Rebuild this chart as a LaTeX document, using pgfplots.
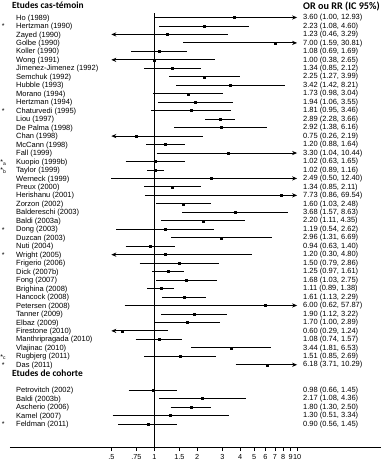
\documentclass[border=0pt]{standalone}
\usepackage{fontspec}
\setmainfont{Liberation Sans}
\newfontfamily\hdr{Carlito}
\usepackage{pgfplots}
\pgfplotsset{compat=1.18}
\usetikzlibrary{arrows.meta}

\tikzset{
  ci/.style={black, line width=0.85pt, mark=none, >={Stealth[length=5pt,width=4.2pt]}},
  est/.style={black, only marks, mark=square*, mark size=1.0pt},
  nm/.style={anchor=base west, inner sep=0pt, font=\fontsize{7.5}{9}\selectfont, xshift=-138.3pt, yshift=-2.6pt},
  vl/.style={anchor=base west, inner sep=0pt, font=\fontsize{7.5}{9}\selectfont, xshift=148.7pt, yshift=-2.2pt},
  st/.style={anchor=base west, inner sep=0pt, font=\fontsize{7}{8}\selectfont, xshift=-152.5pt, yshift=-2.8pt},
  stl/.style={anchor=base west, inner sep=0pt, font=\fontsize{7}{8}\selectfont, xshift=-154pt, yshift=-2.8pt},
  hd/.style={anchor=base west, inner sep=0pt, font=\hdr\bfseries\fontsize{9.4}{11}\selectfont, xshift=-142.3pt},
  na/.style={},
}

% #1 row, #2 name, #3 estimate, #4 lower, #5 upper, #6 drawn lower, #7 drawn upper, #8 arrow
\newcommand{\study}[8]{%
  \addplot[ci,#8] coordinates {(#6,#1) (#7,#1)};
  \addplot[est] coordinates {(#3,#1)};
  \node[nm] at (axis cs:1,#1) {#2};
  \node[vl] at (axis cs:1,#1) {#3 (#4, #5)};
}

\begin{document}
\begin{tikzpicture}
\useasboundingbox (-10pt,-16pt) rectangle (372pt,447pt);
\begin{axis}[
  at={(0,0)}, anchor=south west,
  scale only axis, width=371pt, height=447pt,
  xmode=log, xmin=0.0976, xmax=38.7,
  ymin=-2.066, ymax=50.71, y dir=reverse,
  axis x line*=bottom, axis y line=none,
  xtick={0.5,0.75,1,1.5,2,3,4,5,6,7,8,9,10},
  xticklabels={.5,.75,1,1.5,2,3,4,5,6,7,8,9,10},
  xminorticks=false,
  tick align=outside, major tick length=4pt,
  tick style={black, line width=0.7pt},
  axis line style={black, line width=0.8pt},
  xticklabel style={font=\fontsize{7.3}{8}\selectfont},
  clip=false,
]
\addplot[black, line width=0.8pt, mark=none] coordinates {(1,-0.53) (1,50.71)};

\node[hd] at (axis cs:1,-1.04) {Etudes cas-témoin};
\node[hd, font=\hdr\bfseries\fontsize{10.2}{12}\selectfont, xshift=291pt] at (axis cs:1,-0.97) {OR ou RR (IC 95\%)};
\node[hd] at (axis cs:1,42.36) {Etudes de cohorte};

\study{0}{Ho (1989)}{3.60}{1.00}{12.93}{1.00}{10}{->}
\study{1}{Hertzman (1990)}{2.23}{1.08}{4.60}{1.08}{4.60}{na}
\study{2}{Zayed (1990)}{1.23}{0.46}{3.29}{0.5}{3.29}{<-}
\study{3}{Golbe (1990)}{7.00}{1.59}{30.81}{1.59}{10}{->}
\study{4}{Koller (1990)}{1.08}{0.69}{1.69}{0.69}{1.69}{na}
\study{5}{Wong (1991)}{1.00}{0.38}{2.65}{0.5}{2.65}{<-}
\study{6}{Jimenez-Jimenez (1992)}{1.34}{0.85}{2.12}{0.85}{2.12}{na}
\study{7}{Semchuk (1992)}{2.25}{1.27}{3.99}{1.27}{3.99}{na}
\study{8}{Hubble (1993)}{3.42}{1.42}{8.21}{1.42}{8.21}{na}
\study{9}{Morano (1994)}{1.73}{0.98}{3.04}{0.98}{3.04}{na}
\study{10}{Hertzman (1994)}{1.94}{1.06}{3.55}{1.06}{3.55}{na}
\study{11}{Chaturvedi (1995)}{1.81}{0.95}{3.46}{0.95}{3.46}{na}
\study{12}{Liou (1997)}{2.89}{2.28}{3.66}{2.28}{3.66}{na}
\study{13}{De Palma (1998)}{2.92}{1.38}{6.16}{1.38}{6.16}{na}
\study{14}{Chan (1998)}{0.75}{0.26}{2.19}{0.5}{2.19}{<-}
\study{15}{McCann (1998)}{1.20}{0.88}{1.64}{0.88}{1.64}{na}
\study{16}{Fall (1999)}{3.30}{1.04}{10.44}{1.04}{10}{->}
\study{17}{Kuopio (1999b)}{1.02}{0.63}{1.65}{0.63}{1.65}{na}
\study{18}{Taylor (1999)}{1.02}{0.89}{1.16}{0.89}{1.16}{na}
\study{19}{Werneck (1999)}{2.49}{0.50}{12.40}{0.50}{10}{->}
\study{20}{Preux (2000)}{1.34}{0.85}{2.11}{0.85}{2.11}{na}
\study{21}{Herishanu (2001)}{7.73}{0.86}{69.54}{0.86}{10}{->}
\study{22}{Zorzon (2002)}{1.60}{1.03}{2.48}{1.03}{2.48}{na}
\study{23}{Baldereschi (2003)}{3.68}{1.57}{8.63}{1.57}{8.63}{na}
\study{24}{Baldi (2003a)}{2.20}{1.11}{4.35}{1.11}{4.35}{na}
\study{25}{Dong (2003)}{1.19}{0.54}{2.62}{0.54}{2.62}{na}
\study{26}{Duzcan (2003)}{2.96}{1.31}{6.69}{1.31}{6.69}{na}
\study{27}{Nuti (2004)}{0.94}{0.63}{1.40}{0.63}{1.40}{na}
\study{28}{Wright (2005)}{1.20}{0.30}{4.80}{0.5}{4.80}{<-}
\study{29}{Frigerio (2006)}{1.50}{0.79}{2.86}{0.79}{2.86}{na}
\study{30}{Dick (2007b)}{1.25}{0.97}{1.61}{0.97}{1.61}{na}
\study{31}{Fong (2007)}{1.68}{1.03}{2.75}{1.03}{2.75}{na}
\study{32}{Brighina (2008)}{1.11}{0.89}{1.38}{0.89}{1.38}{na}
\study{33}{Hancock (2008)}{1.61}{1.13}{2.29}{1.13}{2.29}{na}
\study{34}{Petersen (2008)}{6.00}{0.62}{57.87}{0.62}{10}{->}
\study{35}{Tanner (2009)}{1.90}{1.12}{3.22}{1.12}{3.22}{na}
\study{36}{Elbaz (2009)}{1.70}{1.00}{2.89}{1.00}{2.89}{na}
\study{37}{Firestone (2010)}{0.60}{0.29}{1.24}{0.5}{1.24}{<-}
\study{38}{Manthripragada (2010)}{1.08}{0.74}{1.57}{0.74}{1.57}{na}
\study{39}{Vlajinac (2010)}{3.44}{1.81}{6.53}{1.81}{6.53}{na}
\study{40}{Rugbjerg (2011)}{1.51}{0.85}{2.69}{0.85}{2.69}{na}
\study{41}{Das (2011)}{6.18}{3.71}{10.29}{3.71}{10}{->}

\study{44}{Petrovitch (2002)}{0.98}{0.66}{1.45}{0.66}{1.45}{na}
\study{45}{Baldi (2003b)}{2.17}{1.08}{4.36}{1.08}{4.36}{na}
\study{46}{Ascherio (2006)}{1.80}{1.30}{2.50}{1.30}{2.50}{na}
\study{47}{Kamel (2007)}{1.30}{0.51}{3.34}{0.51}{3.34}{na}
\study{48}{Feldman (2011)}{0.90}{0.56}{1.45}{0.56}{1.45}{na}

\node[st] at (axis cs:1,1) {*};
\node[st] at (axis cs:1,11) {*};
\node[stl] at (axis cs:1,17) {*\raisebox{-0.8pt}{\fontsize{5}{5}\selectfont a}};
\node[stl] at (axis cs:1,18) {*\raisebox{-0.8pt}{\fontsize{5}{5}\selectfont b}};
\node[st] at (axis cs:1,25) {*};
\node[st] at (axis cs:1,28) {*};
\node[stl] at (axis cs:1,40) {*\raisebox{-0.8pt}{\fontsize{5}{5}\selectfont c}};
\node[st] at (axis cs:1,41) {*};
\node[st] at (axis cs:1,48) {*};
\end{axis}
\end{tikzpicture}
\end{document}
